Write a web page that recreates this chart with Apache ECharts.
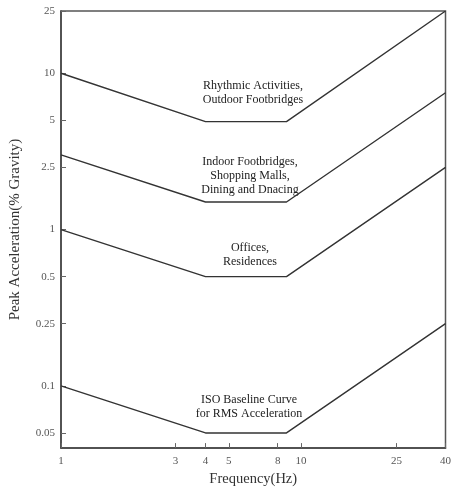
<!DOCTYPE html>
<html>
<head>
<meta charset="utf-8">
<script src="https://cdn.jsdelivr.net/npm/echarts@6/dist/echarts.min.js"></script>
<style>html,body{margin:0;padding:0;background:#fff;}#c{width:454px;height:492px;}</style>
</head>
<body>
<div id="c"></div>
<script>
const freqs = [1, 4, 8.7, 40];
const rhythmic = [10, 4.9, 4.9, 25];
const indoor = [3, 1.5, 1.5, 7.5];
const offices = [1, 0.5, 0.5, 2.5];
const iso = [0.1, 0.05, 0.05, 0.25];
const curveNames = ['Rhythmic Activities, Outdoor Footbridges', 'Indoor Footbridges, Shopping Malls, Dining and Dnacing', 'Offices, Residences', 'ISO Baseline Curve for RMS Acceleration'];
const xTicks = [1, 3, 4, 5, 8, 10, 25, 40];
const yTicks = [0.05, 0.1, 0.25, 0.5, 1, 2.5, 5, 10, 25];
const labelTexts = ['Rhythmic Activities,\nOutdoor Footbridges', 'Indoor Footbridges,\nShopping Malls,\nDining and Dnacing', 'Offices,\nResidences', 'ISO Baseline Curve\nfor RMS Acceleration'];

const FONT = '"Liberation Serif", "DejaVu Serif", serif';
const chart = echarts.init(document.getElementById('c'));
const curves = [rhythmic, indoor, offices, iso];
const series = curves.map((vals, i) => ({
  name: curveNames[i],
  type: 'line',
  data: freqs.map((f, j) => [f, vals[j]]),
  symbol: 'none',
  lineStyle: {color: '#333', width: 1.4},
  silent: true
}));

const labelPos = [[253, 86], [250, 162], [250, 248], [249, 400]];
chart.setOption({
  animation: false,
  backgroundColor: '#fff',
  grid: {left: 60, right: 6, top: 11, bottom: 43, show: true, borderColor: '#555', borderWidth: 1.5, containLabel: false},
  xAxis: {
    type: 'log', logBase: 10, min: 1, max: 40,
    name: 'Frequency(Hz)', nameLocation: 'middle', nameGap: 21,
    nameTextStyle: {fontFamily: FONT, fontSize: 14.5, color: '#333'},
    axisLine: {show: true, lineStyle: {color: '#444', width: 1.5}},
    axisTick: {show: true, inside: true, length: 5, customValues: xTicks, lineStyle: {color: '#666'}},
    axisLabel: {customValues: xTicks, margin: 8, fontFamily: FONT, fontSize: 11, color: '#555', formatter: v => String(v)},
    splitLine: {show: false}, minorTick: {show: false}
  },
  yAxis: {
    type: 'log', logBase: 10, min: 0.04, max: 25,
    name: 'Peak Acceleration(% Gravity)', nameLocation: 'middle', nameGap: 38,
    nameTextStyle: {fontFamily: FONT, fontSize: 15, color: '#333'},
    axisLine: {show: true, lineStyle: {color: '#444', width: 1.5}},
    axisTick: {show: true, inside: true, length: 5, customValues: yTicks, lineStyle: {color: '#666'}},
    axisLabel: {customValues: yTicks, margin: 6, fontFamily: FONT, fontSize: 11, color: '#555', formatter: v => String(v)},
    splitLine: {show: false}, minorTick: {show: false}
  },
  graphic: labelTexts.map((t, i) => ({
    type: 'text', x: labelPos[i][0], y: labelPos[i][1] - 7,
    style: {text: t, font: '12px ' + FONT, fill: '#222', align: 'center', verticalAlign: 'top', lineHeight: 14},
    silent: true
  })),
  series: series
});
</script>
</body>
</html>
